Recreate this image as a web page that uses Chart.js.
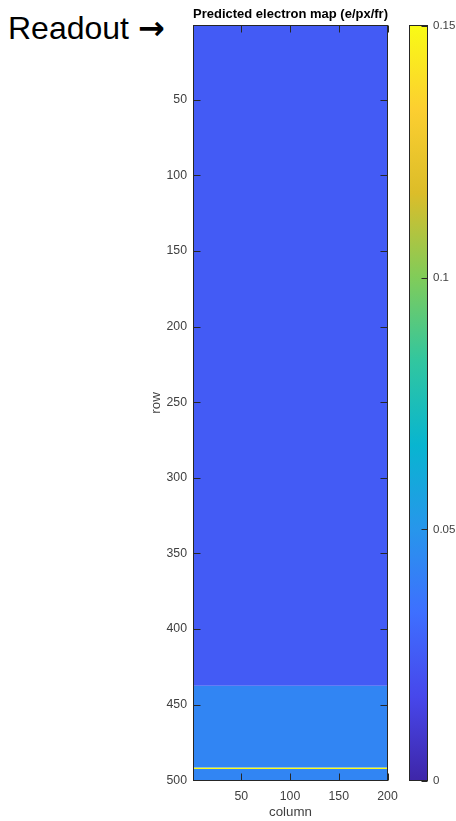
<!DOCTYPE html>
<html>
<head>
<meta charset="utf-8">
<script src="https://cdn.jsdelivr.net/npm/chart.js@4.4.1/dist/chart.umd.min.js"></script>
<style>
  html, body { margin: 0; padding: 0; background: #fff; }
  body { width: 456px; height: 821px; position: relative; overflow: hidden; font-family: "Liberation Sans", Arial, sans-serif; }
  #readout { position: absolute; left: 8px; top: 12px; font-size: 32px; line-height: 32px; color: #000; white-space: nowrap; }
  #readout span { font-family: "DejaVu Sans", sans-serif; font-weight: bold; }
  #mapChart { position: absolute; left: 0; top: 0; }
  #barChart { position: absolute; left: 400px; top: 0; }
</style>
</head>
<body>
<div id="readout">Readout <span>→</span></div>
<canvas id="mapChart" width="456" height="821"></canvas>
<canvas id="barChart" width="56" height="821"></canvas>
<script>
// image is 500 rows x 200 columns, every row is flat across columns -> kept as row bands
const nRows = 500;
const nCols = 200;
const bandFirstRow = [1, 438, 492, 493];
const bandLastRow  = [437, 491, 492, 500];
const bandValue    = [0.025, 0.043, 0.1502, 0.043];

const rowTicks = [50, 100, 150, 200, 250, 300, 350, 400, 450, 500];
const colTicks = [50, 100, 150, 200];
const cbTicks  = [0, 0.05, 0.1, 0.15];
const cLim     = [0, 0.1502];

const FONT = '"Liberation Sans", Arial, Helvetica, sans-serif';
const TXT = '#404040';
const AXIS = '#262626';

// parula, sampled every 7th entry of the 64-colour table
const parula = [
  [62, 38, 168], [71, 71, 235], [62, 111, 255], [39, 150, 235], [8, 181, 208],
  [49, 198, 159], [129, 204, 89], [220, 189, 41], [252, 207, 48], [249, 251, 21]
];

function valueColor(v) {
  let t = (v - cLim[0]) / (cLim[1] - cLim[0]);
  t = Math.min(1, Math.max(0, t)) * (parula.length - 1);
  const i = Math.min(parula.length - 2, Math.floor(t));
  const f = t - i;
  const c = parula[i].map((a, k) => Math.round(a + (parula[i + 1][k] - a) * f));
  return `rgb(${c[0]},${c[1]},${c[2]})`;
}

// MATLAB style frame with inward ticks
const axesFrame = {
  id: 'axesFrame',
  afterDraw(chart, args, opts) {
    const { ctx, chartArea: a } = chart;
    const len = opts.tickLength;
    const L = Math.round(a.left) + 0.5, R = Math.round(a.right) - 0.5;
    const T = Math.round(a.top) + 0.5, B = Math.round(a.bottom) - 0.5;
    ctx.save();
    ctx.strokeStyle = AXIS;
    ctx.lineWidth = 1;
    ctx.beginPath();
    const xs = chart.scales.x, ys = chart.scales.y;
    if (opts.xTicks && xs) {
      xs.ticks.forEach(t => {
        const px = Math.round(xs.getPixelForValue(t.value)) + 0.5;
        ctx.moveTo(px, B); ctx.lineTo(px, B - len);
        ctx.moveTo(px, T); ctx.lineTo(px, T + len);
      });
    }
    if (ys) {
      ys.ticks.forEach(t => {
        const py = Math.round(ys.getPixelForValue(t.value)) + 0.5;
        if (opts.leftTicks) { ctx.moveTo(L, py); ctx.lineTo(L + len, py); }
        ctx.moveTo(R, py); ctx.lineTo(R - len, py);
      });
    }
    ctx.stroke();
    ctx.strokeRect(L, T, R - L, B - T);
    ctx.restore();
  }
};

const datasets = bandValue.map((v, i) => ({
  data: [
    { x: 0.5, y: bandFirstRow[i] - 0.5 },
    { x: nCols + 0.5, y: bandFirstRow[i] - 0.5 }
  ],
  fill: { value: bandLastRow[i] + 0.5 },
  backgroundColor: valueColor(v),
  borderColor: 'rgba(0,0,0,0)',
  borderWidth: 0,
  pointRadius: 0
}));

new Chart(document.getElementById('mapChart'), {
  type: 'line',
  data: { datasets },
  options: {
    responsive: false,
    animation: false,
    events: [],
    layout: { padding: { left: 0, right: 68, top: 0, bottom: 0 } },
    plugins: {
      legend: { display: false },
      tooltip: { enabled: false },
      title: {
        display: true,
        text: 'Predicted electron map (e/px/fr)',
        fullSize: false,
        color: '#000',
        font: { family: FONT, size: 13.3, weight: 'bold', lineHeight: 1.2 },
        padding: { top: 6, bottom: 3 }
      },
      axesFrame: { tickLength: 7, xTicks: true, leftTicks: true }
    },
    scales: {
      x: {
        type: 'linear',
        min: 0.5,
        max: nCols + 0.5,
        afterBuildTicks: s => { s.ticks = colTicks.map(v => ({ value: v })); },
        afterFit: s => { s.height = 40; },
        grid: { display: false, drawTicks: false },
        border: { display: false },
        ticks: { color: TXT, font: { family: FONT, size: 12.3 }, padding: 8, maxRotation: 0 },
        title: { display: true, text: 'column', color: TXT, font: { family: FONT, size: 13.3 }, padding: { top: 0, bottom: 1 } }
      },
      y: {
        type: 'linear',
        reverse: true,
        min: 0.5,
        max: nRows + 0.5,
        afterBuildTicks: s => { s.ticks = rowTicks.map(v => ({ value: v })); },
        afterFit: s => { s.width = 193; },
        grid: { display: false, drawTicks: false },
        border: { display: false },
        ticks: { color: TXT, font: { family: FONT, size: 12.3 }, padding: 6, autoSkip: false },
        title: { display: true, text: 'row', color: TXT, font: { family: FONT, size: 13.3 }, padding: { top: 148, bottom: 0 } }
      }
    }
  },
  plugins: [axesFrame]
});

new Chart(document.getElementById('barChart'), {
  type: 'bar',
  data: {
    labels: ['colorbar'],
    datasets: [{
      data: [[cLim[0], cLim[1]]],
      backgroundColor: c => {
        const ch = c.chart, ys = ch.scales.y;
        if (!ys || !ch.chartArea) return '#888';
        const g = ch.ctx.createLinearGradient(0, ys.getPixelForValue(cLim[0]), 0, ys.getPixelForValue(cLim[1]));
        parula.forEach((col, i) => g.addColorStop(i / (parula.length - 1), `rgb(${col[0]},${col[1]},${col[2]})`));
        return g;
      },
      borderWidth: 0,
      barPercentage: 1,
      categoryPercentage: 1
    }]
  },
  options: {
    responsive: false,
    animation: false,
    events: [],
    layout: { padding: { left: 9, right: 0, top: 25, bottom: 40 } },
    plugins: {
      legend: { display: false },
      tooltip: { enabled: false },
      axesFrame: { tickLength: 6, xTicks: false, leftTicks: false }
    },
    scales: {
      x: { display: false },
      y: {
        position: 'right',
        min: cLim[0],
        max: cLim[1],
        afterBuildTicks: s => { s.ticks = cbTicks.map(v => ({ value: v })); },
        afterFit: s => { s.width = 28; },
        grid: { display: false, drawTicks: false },
        border: { display: false },
        ticks: { color: TXT, font: { family: FONT, size: 11.5 }, padding: 5, callback: v => String(v) }
      }
    }
  },
  plugins: [axesFrame]
});
</script>
</body>
</html>
